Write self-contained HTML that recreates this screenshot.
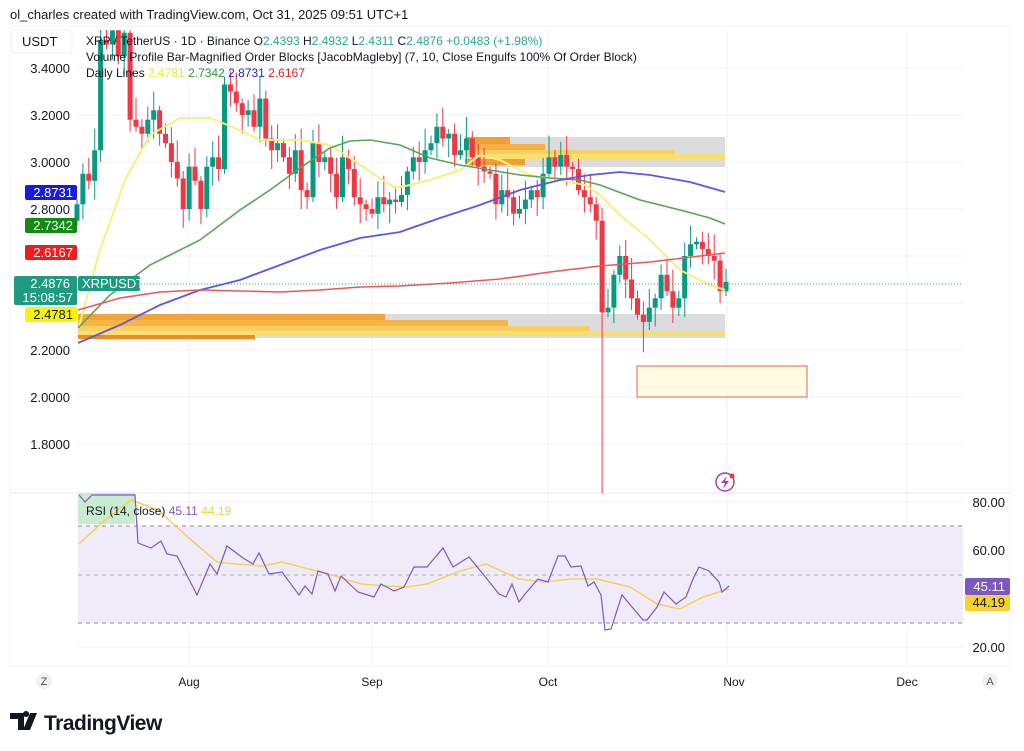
<!DOCTYPE html>
<html><head><meta charset="utf-8">
<style>
html,body{margin:0;padding:0;background:#fff;width:1024px;height:751px;overflow:hidden}
svg{display:block}
text{font-family:"Liberation Sans",sans-serif}
</style></head>
<body>
<svg id="s" width="1024" height="751" viewBox="0 0 1024 751" xmlns="http://www.w3.org/2000/svg">
<rect x="0" y="0" width="1024" height="751" fill="#fff"/>
<text x="10" y="19" font-size="13" fill="#131722">ol_charles created with TradingView.com, Oct 31, 2025 09:51 UTC+1</text>
<rect x="10" y="26" width="1000" height="640" fill="none" stroke="#f3f4f6"/>
<g id="grid" stroke="#f0f2f5" stroke-width="1">
<line x1="189" y1="30" x2="189" y2="665"/><line x1="372" y1="30" x2="372" y2="665"/><line x1="548" y1="30" x2="548" y2="665"/><line x1="727" y1="30" x2="727" y2="665"/><line x1="907" y1="30" x2="907" y2="665"/>
<line x1="78" y1="68" x2="963" y2="68"/><line x1="78" y1="115" x2="963" y2="115"/><line x1="78" y1="162" x2="963" y2="162"/><line x1="78" y1="209" x2="963" y2="209"/><line x1="78" y1="256" x2="963" y2="256"/><line x1="78" y1="303" x2="963" y2="303"/><line x1="78" y1="350" x2="963" y2="350"/><line x1="78" y1="397" x2="963" y2="397"/><line x1="78" y1="444" x2="963" y2="444"/>
<line x1="78" y1="502" x2="963" y2="502"/><line x1="78" y1="550" x2="963" y2="550"/><line x1="78" y1="647" x2="963" y2="647"/>
</g>
<line x1="10" y1="493" x2="1010" y2="493" stroke="#e6e8ec"/>
<rect x="465" y="137" width="260" height="30" fill="#dcdcde"/>
<rect x="465" y="137" width="45" height="7" fill="#f0a030"/>
<rect x="465" y="144" width="80" height="6" fill="#f5b040"/>
<rect x="465" y="150" width="210" height="6" fill="#f8d060"/>
<rect x="475" y="154" width="250" height="5" fill="#f8e070"/>
<rect x="465" y="159" width="60" height="6" fill="#f0a030"/>
<rect x="78" y="314" width="647" height="24" fill="#dcdcde"/>
<rect x="78" y="314" width="307" height="6" fill="#f2a535"/>
<rect x="78" y="320" width="430" height="6" fill="#f5b545"/>
<rect x="78" y="326" width="512" height="5" fill="#f8cf60"/>
<rect x="78" y="331" width="647" height="5" fill="#f8e070"/>
<rect x="78" y="335" width="177" height="4" fill="#ee8a25"/>
<rect x="637" y="366" width="170" height="31" fill="#fffbe0" stroke="#e06060" stroke-width="1"/>
<g id="cand"></g>
<polyline fill="none" stroke="#f5f080" stroke-width="2" points="78,330 100,250 125,180 150,135 180,118 210,118 235,128 260,140 300,140 330,145 350,158 375,175 395,188 410,185 430,180 460,170 480,155 500,160 530,175 560,180 585,185 600,195 620,215 650,240 680,270 710,285 725,290"/>
<polyline fill="none" stroke="#5aa35a" stroke-width="1.6" points="78,328 110,295 150,265 200,240 240,210 270,190 300,168 330,148 350,141 370,140 400,145 430,158 460,165 490,170 520,175 550,178 580,180 600,185 640,200 680,210 710,218 725,224"/>
<polyline fill="none" stroke="#5a5ae0" stroke-width="1.8" points="78,343 120,325 160,305 200,290 240,280 280,265 320,250 360,238 400,232 440,218 480,205 520,190 560,180 590,175 620,172 650,175 690,182 725,192"/>
<polyline fill="none" stroke="#e85a5a" stroke-width="1.6" points="78,310 120,298 160,292 200,290 240,291 280,292 320,290 360,287 400,286 450,283 500,279 550,272 600,266 650,262 700,256 725,253"/>
<line x1="78" y1="284" x2="963" y2="284" stroke="#26a69a" stroke-dasharray="1,2"/>
<g font-size="13" fill="#131722" text-anchor="end">
<text x="70" y="73">3.4000</text><text x="70" y="120">3.2000</text><text x="70" y="167">3.0000</text><text x="70" y="214">2.8000</text><text x="70" y="355">2.2000</text><text x="70" y="402">2.0000</text><text x="70" y="449">1.8000</text>
</g>
<rect x="12" y="30" width="60" height="23" rx="3" fill="#fff" stroke="#eef0f3"/>
<text x="22" y="46" font-size="13" fill="#131722">USDT</text>
<rect x="25" y="185" width="52" height="15" rx="2" fill="#1a1ae0"/><text x="73" y="197" font-size="13" fill="#fff" text-anchor="end">2.8731</text>
<rect x="25" y="218" width="52" height="15" rx="2" fill="#138a13"/><text x="73" y="230" font-size="13" fill="#fff" text-anchor="end">2.7342</text>
<rect x="25" y="245" width="52" height="15" rx="2" fill="#f01c1c"/><text x="73" y="257" font-size="13" fill="#fff" text-anchor="end">2.6167</text>
<rect x="14" y="276" width="63" height="29" rx="2" fill="#1e9a82"/><text x="70" y="288" font-size="13" fill="#fff" text-anchor="end">2.4876</text><text x="73" y="302" font-size="13" fill="#fff" text-anchor="end">15:08:57</text>
<rect x="78" y="276" width="62" height="15" rx="2" fill="#1e9a82"/><text x="82" y="288" font-size="13" fill="#fff">XRPUSDT</text>
<rect x="25" y="307" width="52" height="15" rx="2" fill="#f5f500"/><text x="73" y="319" font-size="13" fill="#131722" text-anchor="end">2.4781</text>
<g font-size="12" fill="#131722">
<text x="86" y="45">XRP / TetherUS · 1D · Binance  O<tspan fill="#26a69a">2.4393</tspan>  H<tspan fill="#26a69a">2.4932</tspan>  L<tspan fill="#26a69a">2.4311</tspan>  C<tspan fill="#26a69a">2.4876</tspan>  <tspan fill="#26a69a">+0.0483 (+1.98%)</tspan></text>
<text x="86" y="61">Volume Profile Bar-Magnified Order Blocks [JacobMagleby] (7, 10, Close Engulfs 100% Of Order Block)</text>
<text x="86" y="77">Daily Lines  <tspan fill="#eaea30">2.4781</tspan>  <tspan fill="#2a9a2a">2.7342</tspan>  <tspan fill="#2020d0">2.8731</tspan>  <tspan fill="#e02020">2.6167</tspan></text>
</g>
<circle cx="725" cy="482" r="9" fill="none" stroke="#9c3fc0" stroke-width="1.5"/>
<path d="M727,476 L721,483 L725,483 L723,489 L729,481 L725,481 Z" fill="#9c3fc0"/>
<circle cx="732" cy="476" r="2.5" fill="#f23645"/>
<rect x="78" y="526" width="885" height="97" fill="#ede8f8" opacity="0.85"/>
<path d="M78,493 L135,493 L135,524 L78,524 Z" fill="#c8ecd0"/>
<line x1="78" y1="526" x2="963" y2="526" stroke="#8a8a98" stroke-dasharray="4,4"/>
<line x1="78" y1="575" x2="963" y2="575" stroke="#aaaab4" stroke-dasharray="4,4"/>
<line x1="78" y1="623" x2="963" y2="623" stroke="#8a8a98" stroke-dasharray="4,4"/>
<polyline fill="none" stroke="#f5d060" stroke-width="1.5" points="79,544 105,520 131,500 158,510 190,539 217,562 236,564 263,566 282,562 309,569 335,576 361,584 387,586 407,587 427,584 460,571 486,564 519,579 545,582 571,579 597,579 630,587 657,604 680,609 703,597 729,589"/>
<polyline fill="none" stroke="#7e57c2" stroke-width="1.2" points="79,495 85,502 92,495 135,495 138,543 151,548 161,541 167,554 177,556 197,595 210,564 217,574 227,546 243,558 253,564 259,553 269,574 282,572 299,595 305,586 312,594 318,571 328,574 335,591 341,576 358,592 374,597 381,584 394,591 404,587 414,567 427,567 443,548 453,567 469,557 483,574 499,594 506,597 512,584 519,602 525,594 538,579 548,582 558,556 565,556 571,567 581,566 588,586 594,582 601,595 605,630 611,629 622,595 643,620 647,620 657,607 664,592 676,604 686,597 693,579 699,567 709,571 719,582 722,592 729,586"/>
<text x="86" y="515" font-size="12" fill="#131722">RSI (14, close)  <tspan fill="#7e57c2">45.11</tspan>  <tspan fill="#f0d040">44.19</tspan></text>
<g font-size="13" fill="#131722" text-anchor="end">
<text x="1005" y="507">80.00</text><text x="1005" y="555">60.00</text><text x="1005" y="652">20.00</text>
</g>
<rect x="965" y="578" width="45" height="17" rx="2" fill="#7e57c2"/><text x="1005" y="591" font-size="13" fill="#fff" text-anchor="end">45.11</text>
<rect x="965" y="595" width="45" height="16" rx="2" fill="#f7d22a"/><text x="1005" y="607" font-size="13" fill="#131722" text-anchor="end">44.19</text>
<g font-size="12" fill="#131722" text-anchor="middle">
<text x="189" y="686">Aug</text><text x="372" y="686">Sep</text><text x="548" y="686">Oct</text><text x="734" y="686">Nov</text><text x="907" y="686">Dec</text>
</g>
<circle cx="44" cy="681" r="8" fill="#f0f1f3"/><text x="44" y="685" font-size="11" fill="#555" text-anchor="middle">Z</text>
<circle cx="990" cy="681" r="8" fill="#f0f1f3"/><text x="990" y="685" font-size="11" fill="#555" text-anchor="middle">A</text>
<path d="M10,713 h14 v17 h-6 v-11 h-8 z M26,717 a3,3 0 1 1 0.1,0 M30,713 h7 l-7,17 h-7 z" fill="#131722"/>
<text x="44" y="730" font-size="21" font-weight="bold" fill="#131722" letter-spacing="-0.5">TradingView</text>
</svg>
<script>
var c=[2.82,2.95,2.92,3.05,3.52,3.50,3.56,
3.45,3.55,3.18,3.15,3.12,3.18,3.22,
3.12,3.08,3.00,2.93,2.80,2.98,2.92,
2.80,2.98,3.02,2.97,3.33,3.30,3.25,
3.20,3.22,3.15,3.27,3.10,3.05,3.08,
3.02,2.95,3.05,2.88,2.85,3.08,3.00,
3.02,2.95,2.85,3.02,2.97,2.85,2.82,
2.80,2.78,2.85,2.82,2.84,2.83,2.86,
2.96,3.02,3.00,3.05,3.08,3.15,3.10,
3.12,3.03,3.05,3.10,3.02,2.98,2.96,
2.95,2.82,2.88,2.85,2.78,2.80,2.84,
2.88,2.85,2.95,3.02,2.98,3.03,2.98,
2.97,2.88,2.85,2.82,2.75,2.36,2.38,
2.52,2.60,2.50,2.42,2.35,2.32,2.38,
2.42,2.52,2.45,2.38,2.42,2.60,2.65,
2.66,2.63,2.60,2.58,2.45,2.49];
function Y(p){return 68+(3.4-p)*235;}
var g=document.getElementById('cand'),h='';
for(var i=0;i<c.length;i++){
 var o=i?c[i-1]:2.75,cl=c[i],x=77+5.9*i;
 var up=cl>=o,col=up?'#089981':'#f23645';
 var hi=Math.max(o,cl)+0.02+((i*37)%7)*0.012,lo=Math.min(o,cl)-0.02-((i*53)%5)*0.015;
 if(i==89)lo=1.59; if(i==96)lo=2.19; if(i==4)hi=3.62;
 var y1=Y(hi),y2=Y(lo);if(y1<30)y1=30;
 h+='<line x1="'+x+'" y1="'+y1+'" x2="'+x+'" y2="'+y2+'" stroke="'+col+'" stroke-width="1"/>';
 var t=Y(Math.max(o,cl)),b=Y(Math.min(o,cl));if(b-t<1.5)b=t+1.5;if(t<30)t=30;
 h+='<rect x="'+(x-2.5)+'" y="'+t+'" width="5" height="'+(b-t)+'" fill="'+col+'"/>';
}
g.innerHTML=h;
</script>
</body></html>
